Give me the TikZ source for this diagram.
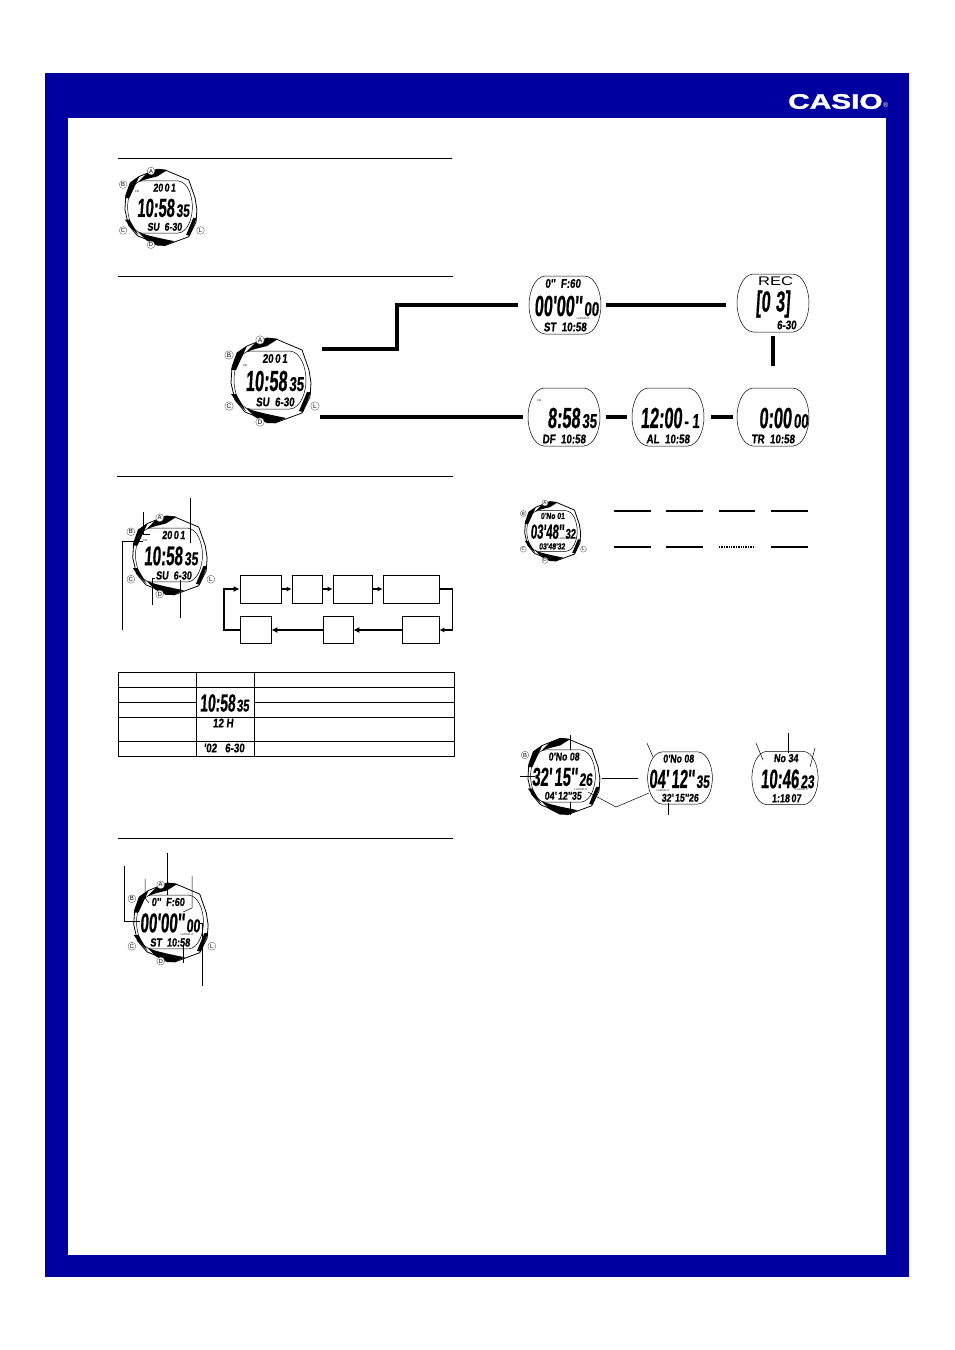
\documentclass[tikz,border=0pt]{standalone}
\usepackage{fontspec}
\setmainfont{Liberation Sans}
\newfontfamily\lcdfont[UprightFont={* Bold}, FakeBold=.8, FakeSlant=.12]{Liberation Sans}
\newfontfamily\logofont[UprightFont={* Bold}, FakeBold=1.5]{Liberation Sans}
\usetikzlibrary{arrows.meta, positioning}

\definecolor{framecol}{HTML}{0000A0}
\newcommand{\lcd}[3]{\scalebox{#2}[1]{\fontsize{#1}{#1}\lcdfont #3}}
\newcommand{\lcdmain}[1]{\lcd{29}{.56}{#1}}
\newcommand{\lcdsec}[1]{\lcd{20}{.66}{#1}}
\newcommand{\lcdline}[1]{\lcd{12.5}{.78}{#1}}

\tikzset{
  lcdtext/.style={inner sep=0pt, outer sep=0pt},
  tinytext/.style={inner sep=0pt, font=\fontsize{2.6}{2.6}\selectfont},
  thinline/.style={line width=.7pt},
  leader/.style={line width=.5pt},
  route/.style={line width=3.6pt},
  flow/.style={-{Latex[length=5pt,width=5pt]}, line width=1.2pt},
  flowbold/.style={-{Latex[length=6pt,width=6pt]}, line width=1.8pt},
  modebox/.style={draw, line width=.7pt, inner sep=0pt},
  tick/.style={line width=1.4pt},
  button/.style={circle, draw=black!70, fill=white, line width=.3pt, inner sep=0pt, minimum size=8.5pt,
    font=\fontsize{6.5}{6.5}\selectfont},
  pics/lcdface/.style n args={5}{code={
    \node[minimum width=72pt, minimum height=58pt, inner sep=0pt, outer sep=0pt] (-face) at (0,0) {};
    \draw[leader] (-20,-29) -- (20,-29) .. controls (31,-28) and (36,-12) .. (36,0)
      .. controls (36,12) and (31,28) .. (20,29) -- (-20,29)
      .. controls (-31,28) and (-36,12) .. (-36,0) .. controls (-36,-12) and (-31,-28) .. (-20,-29) -- cycle;
    \node[lcdtext] (-top) at (1,-21.5) {\lcdline{#1}};
    \node[lcdtext, anchor=east] (-main) at (#5,1) {\lcdmain{#2}};
    \node[lcdtext, anchor=base west] (-sec) at ([xshift=2pt]-main.base east) {\lcdsec{#3}};
    \node[lcdtext] (-bot) at (0,22) {\lcdline{#4}};
  }},
  pics/watchcase/.style={code={
    \draw[line width=.8pt] (6,-41) -- (32,-30) -- (39,-10) -- (41,3) -- (40,17) -- (32,33)
      -- (5,43) -- (-15,36) -- (-25,32) -- (-35,20) -- (-39,3) -- (-38,-13) -- (-33,-27)
      -- (-23,-34) -- (-3,-42) -- cycle;
    \fill (-24,-28) -- (-15,-37) -- (-3,-42) -- (8,-41) -- (-3,-34) -- (-15,-31) -- cycle;
    \fill (-24,28) -- (-15,31) -- (-3,34) -- (16,38) -- (5,43) -- (-3,43) -- (-15,37) -- cycle;
    \fill (-39,-10) -- (-33,-27) -- (-23,-34) -- (-34,-10) -- cycle;
    \fill (-39,14) -- (-34,14) -- (-24,31) -- (-34,21) -- cycle;
    \fill (41,12) -- (37,12) -- (29,31) -- (33,32) -- cycle;
  }},
  pics/watchkeys/.style={code={
    \node[button] (-a) at (-10,-40) {A};
    \node[button] (-b) at (-41,-25) {B};
    \node[button] (-c) at (-41,26) {C};
    \node[button] (-d) at (-10,42) {D};
    \node[button] (-l) at (45,26) {L};
  }},
}

\begin{document}
\begin{tikzpicture}[x=1pt, y=-1pt]
  \useasboundingbox (0,0) rectangle (954,1350);
  \fill[framecol] (45,73) rectangle (909,1277);
  \fill[white] (68,118) rectangle (886,1255);
  \node[inner sep=0pt, text=white, anchor=west] (casio) at (788,101.5)
    {\scalebox{1.42}[1]{\fontsize{21}{21}\logofont CASIO}};
  \node[inner sep=0pt, text=white, anchor=south west, font=\fontsize{7}{7}\selectfont] (casioreg) at ([yshift=1pt]casio.south east) {®};

  % section rules
  \coordinate (rulea) at (118,158);
  \coordinate (ruleb) at (118,276);
  \coordinate (rulec) at (117,476);
  \coordinate (ruled) at (118,838);
  \draw[thinline] (rulea) -- ++(334,0);
  \draw[thinline] (ruleb) -- ++(335,0);
  \draw[thinline] (rulec) -- ++(336,0);
  \draw[thinline] (ruled) -- ++(335,0);

  % watches
  \pic[scale=.9, transform shape] (wone) at (160,207) {watchcase};
  \pic[scale=.9, transform shape] (wonekeys) at (160,207) {watchkeys};
  \pic[scale=.9, transform shape] (wone) at (160,207) {lcdface={\hspace{10pt}20\,0\,1}{10:58}{35}{\hspace{13pt}SU\ \ 6-30}{16}};
  \node[tinytext] (wonepm) at (137,192) {PM};

  \pic (wtwo) at (270,380) {watchcase};
  \pic (wtwokeys) at (270,380) {watchkeys};
  \pic (wtwo) at (270,380) {lcdface={\hspace{10pt}20\,0\,1}{10:58}{35}{\hspace{13pt}SU\ \ 6-30}{17}};
  \node[tinytext] (wtwopm) at (245,366) {PM};

  \pic (done) at (565,305) {lcdface={0''\ \ F:60\hspace{8pt}}{00'00''}{00}{ST\ \ 10:58}{17}};
  \node[tinytext] (donelap) at (583,319) {LAP/SPLIT};
  \pic (drec) at (773,303) {lcdface={\normalfont\hspace{4pt}\scalebox{1.7}[1]{REC}}{[0\,\,3]}{}{\phantom{SU\ \ \ \ \ }6-30}{17}};
  \pic (ddf) at (564,417) {lcdface={}{8:58}{35}{DF\ \ 10:58}{16}};
  \node[tinytext] (ddfpm) at (539,401) {PM};
  \pic (dal) at (668,417) {lcdface={}{12:00}{- 1}{AL\ \ 10:58}{14}};
  \pic (dtr) at (773,417) {lcdface={}{0:00}{00}{TR\ \ 10:58}{18.5}};

  % routes
  \coordinate (routestart) at (322,349);
  \coordinate (routeturn) at (397,349);
  \coordinate (routelow) at (320,417);
  \draw[route, shorten >=11pt] (routestart) -- (routeturn) |- (done-face.west);
  \draw[route, shorten <=5pt, shorten >=11pt] (done-face.east) -- (drec-face.west |- done-face.east);
  \draw[route, shorten <=4pt, shorten >=22pt] (drec-face.south) -- (dtr-face.north);
  \draw[route, shorten >=5pt] (routelow) -- (ddf-face.west);
  \draw[route, shorten <=6pt, shorten >=5pt] (ddf-face.east) -- (dal-face.west);
  \draw[route, shorten <=7pt, shorten >=4pt] (dal-face.east) -- (dtr-face.west);

  % watch with leaders and flow
  \pic[scale=.93, transform shape] (wthree) at (169,555) {watchcase};
  \pic[scale=.93, transform shape] (wthreekeys) at (169,555) {watchkeys};
  \pic[scale=.93, transform shape] (wthree) at (169,555) {lcdface={\hspace{10pt}20\,0\,1}{10:58}{35}{\hspace{13pt}SU\ \ 6-30}{14.5}};
  \node[tinytext] (wthreepm) at (145,541) {PM};
  \coordinate (la) at (190,498);
  \coordinate (lb) at (143,512);
  \coordinate (lc) at (122,630);
  \coordinate (ld) at (152,605);
  \coordinate (le) at (180,618);
  \draw[leader] (la) -- ++(0,45);
  \draw[leader] (lb) -- ++(0,22) -- ++(7,0);
  \draw[leader] (lc) |- (wthreepm.west);
  \draw[leader] (ld) |- (155,578);
  \draw[leader] (le) -- ++(0,-38);

  \node[modebox, minimum width=41pt, minimum height=28pt] (mone) at (260.5,589) {};
  \node[modebox, minimum width=30pt, minimum height=28pt] (mtwo) at (307,589) {};
  \node[modebox, minimum width=39pt, minimum height=28pt] (mthree) at (352.5,589) {};
  \node[modebox, minimum width=56pt, minimum height=28pt] (mfour) at (411,589) {};
  \node[modebox, minimum width=37pt, minimum height=27pt] (mfive) at (420.5,630) {};
  \node[modebox, minimum width=30pt, minimum height=27pt] (msix) at (338,630) {};
  \node[modebox, minimum width=31pt, minimum height=27pt] (mseven) at (255.5,630) {};
  \draw[flow] (mone) -- (mtwo);
  \draw[flow] (mtwo) -- (mthree);
  \draw[flow] (mthree) -- (mfour);
  \draw[flow] (mfour.east) -- ++(13,0) |- (mfive.east);
  \draw[flowbold] (mfive) -- (msix);
  \draw[flowbold] (msix) -- (mseven);
  \draw[flowbold] (mseven.west) -- ++(-16,0) |- (mone.west);

  % table
  \coordinate (tabnw) at (118,672);
  \coordinate (tabse) at (454,756);
  \draw[thinline] (tabnw) rectangle (tabse);
  \draw[thinline] (196,672) -- (196,756);
  \draw[thinline] (254,672) -- (254,756);
  \draw[thinline] (118,687) -- (454,687);
  \draw[thinline] (118,702) -- (196,702);
  \draw[thinline] (254,702) -- (454,702);
  \draw[thinline] (118,717) -- (454,717);
  \draw[thinline] (118,741) -- (454,741);
  \node[lcdtext, scale=.85] (tabtime) at (224.5,703) {\lcdmain{10:58}\,\lcdsec{35}};
  \node[lcdtext] (tabhour) at (223,723) {\lcdline{12 H}};
  \node[lcdtext] (tabdate) at (224,748) {\lcdline{'02\ \ \ 6-30}};

  % last section watch
  \pic[scale=.93, transform shape] (wfour) at (170,922) {watchcase};
  \pic[scale=.93, transform shape] (wfourkeys) at (170,922) {watchkeys};
  \pic[scale=.93, transform shape] (wfour) at (170,922) {lcdface={0''\ \ F:60\hspace{8pt}}{00'00''}{00}{ST\ \ 10:58}{15.5}};
  \node[tinytext] (wfourlap) at (187,935) {LAP/SPLIT};
  \coordinate (ma) at (167,853);
  \coordinate (mb) at (124,866);
  \coordinate (mc) at (145,879);
  \coordinate (md) at (192,876);
  \coordinate (me) at (183,963);
  \coordinate (mf) at (202,986);
  \draw[leader] (ma) -- ++(0,42);
  \draw[leader] (mb) |- (140,921);
  \draw[leader] (mc) -- ++(0,19) -- ++(4,5);
  \draw[leader] (md) -- ++(0,32) -- ++(-9,4);
  \draw[leader] (me) -- ++(0,-18);
  \draw[leader] (mf) |- (200,923);

  % memory watch and ticks
  \pic[scale=.7, transform shape] (wfive) at (552,531) {watchcase};
  \pic[scale=.7, transform shape] (wfivekeys) at (552,531) {watchkeys};
  \pic[scale=.7, transform shape] (wfive) at (552,531) {lcdface={0'No 01}{03'48''}{32}{03'48'32}{17}};
  \node[tinytext] (wfivelap) at (565,539) {LAP/SPLIT};
  \foreach \xa/\xb in {614/651, 666/703, 719/755, 771/808} {
    \coordinate (ta\xa) at (\xa,511);
    \coordinate (tb\xa) at (\xb,511);
    \draw[tick] (ta\xa) -- (tb\xa);
  }
  \foreach \xa/\xb in {614/651, 666/703, 771/808} {
    \coordinate (ba\xa) at (\xa,547);
    \coordinate (bb\xa) at (\xb,547);
    \draw[tick] (ba\xa) -- (bb\xa);
  }
  \coordinate (bax) at (719,547);
  \coordinate (bbx) at (755,547);
  \draw[tick, densely dotted] (bax) -- (bbx);

  % recall displays
  \pic[scale=.9, transform shape] (wsix) at (563,776) {watchcase};
  \pic[scale=.9, transform shape] (wsix) at (563,776) {lcdface={0'No 08}{32'\,15''}{26}{04'\,12''35}{16}};
  \node[button, scale=.9, transform shape] (wsixb) at (525,755) {B};
  \node[tinytext] (wsixlap) at (581,790) {LAP/SPLIT};
  \pic[scale=.9, transform shape] (dsplit) at (680,778) {lcdface={0'No 08\hspace{7pt}}{04'\,12''}{35}{32'\,15''26}{16}};
  \node[tinytext] (dsplitlap) at (663,791) {LAP/SPLIT};
  \pic[scale=.92, transform shape] (dbest) at (785,778) {lcdface={No 34}{10:46}{23}{\hspace{4pt}1:18\,07}{15}};
  \node[tinytext] (dbestlap) at (802,790) {LAP/SPLIT};
  \coordinate (na) at (570,735);
  \coordinate (nb) at (520,776);
  \coordinate (nc) at (570,815);
  \coordinate (nd) at (588,792);
  \coordinate (ne) at (647,743);
  \coordinate (nf) at (668,815);
  \coordinate (ng) at (756,743);
  \coordinate (nh) at (788,733);
  \coordinate (ni) at (815,748);
  \draw[leader] (na) -- ++(0,15);
  \draw[thinline] (nb) -- ++(15,0);
  \draw[leader] (nc) -- ++(0,-13);
  \draw[thinline, shorten <=7pt, shorten >=10pt] (wsix-face.east |- dsplit-face.west) -- (dsplit-face.west);
  \draw[leader] (nd) -- (616,807) -- (649,793);
  \draw[leader] (ne) -- ++(6,14);
  \draw[leader] (nf) -- ++(0,-12);
  \draw[leader] (ng) -- ++(7,17);
  \draw[leader] (nh) -- ++(0,20);
  \draw[leader] (ni) -- ++(-5,19);
\end{tikzpicture}
\end{document}
